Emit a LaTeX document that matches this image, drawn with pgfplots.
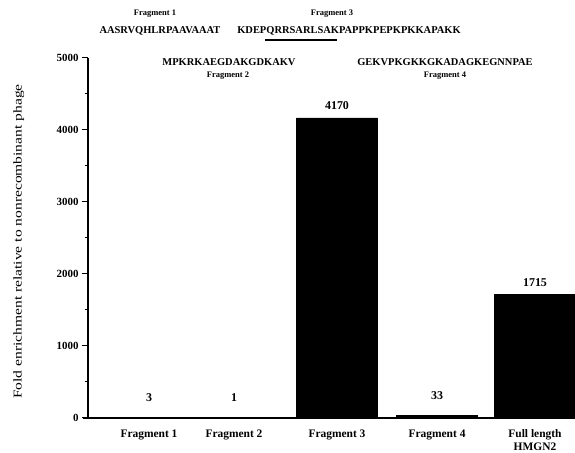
\documentclass[border=0pt]{standalone}
\usepackage{pgfplots}
\pgfplotsset{compat=1.18}
\usepackage{fontspec}
\setmainfont{Liberation Serif}

\begin{document}
\begin{tikzpicture}[x=1bp,y=1bp]
\path[use as bounding box] (0,0) rectangle (575,453);
\begin{axis}[
  at={(88bp,35bp)}, anchor=south west,
  scale only axis, width=487bp, height=360bp,
  xmin=88, xmax=575, ymin=0, ymax=5000,
  axis x line=bottom, axis y line=left,
  axis line style={line width=1.3pt, -},
  ytick={0,1000,2000,3000,4000,5000},
  minor ytick={500,1500,2500,3500,4500},
  tick align=outside,
  major tick length=6bp, minor tick length=3bp,
  every tick/.style={line width=1pt, black},
  yticklabel style={font=\fontsize{11}{13}\selectfont\bfseries},
  /pgf/number format/assume math mode=true,
  /pgf/number format/1000 sep={},
  scaled y ticks=false,
  xtick={149,234,337,437,535},
  xticklabels={Fragment 1, Fragment 2, Fragment 3, Fragment 4, {Full length\\HMGN2}},
  x tick style={draw=none},
  xticklabel style={font=\fontsize{11.5}{13}\selectfont\bfseries, align=center, yshift=-2bp},
  ylabel={\scalebox{1.3}[1]{\fontsize{12}{14}\selectfont Fold enrichment relative to nonrecombinant phage}},
  ylabel style={at={(axis description cs:-0.142,0.49)}, anchor=center},
  nodes near coords,
  every node near coord/.append style={font=\fontsize{12}{14}\selectfont\bfseries, inner sep=0pt, anchor=south},
]
% large bars
\addplot[ybar, bar width=81, fill=black, draw=black,
  every node near coord/.append style={yshift=8bp}]
  coordinates {(337,4170) (535,1715)};
% near-zero bars
\addplot[ybar, bar width=81, fill=black, draw=black,
  every node near coord/.append style={yshift=16bp}]
  coordinates {(149,3) (234,1) (437,33)};
\end{axis}
% x axis line runs a little past the y axis
\draw[line width=1.3pt] (83,35) -- (88,35);

% peptide sequences above the plot
\node[font=\fontsize{8.5}{10}\selectfont\bfseries] at (155,439) {Fragment 1};
\node[font=\fontsize{10.5}{12}\selectfont\bfseries] at (160,422) {AASRVQHLRPAAVAAAT};
\node[font=\fontsize{8.5}{10}\selectfont\bfseries] at (332,439) {Fragment 3};
\node[font=\fontsize{10.5}{12}\selectfont\bfseries] at (349,422) {KDEPQRRSARLSAKPAPPKPEPKPKKAPAKK};
\draw[line width=1.6pt] (265,413) -- (337,413);
\node[font=\fontsize{10.5}{12}\selectfont\bfseries] at (229,391) {MPKRKAEGDAKGDKAKV};
\node[font=\fontsize{8.5}{10}\selectfont\bfseries] at (228,377) {Fragment 2};
\node[font=\fontsize{10.5}{12}\selectfont\bfseries] at (445,391) {GEKVPKGKKGKADAGKEGNNPAE};
\node[font=\fontsize{8.5}{10}\selectfont\bfseries] at (445,377) {Fragment 4};
\end{tikzpicture}
\end{document}
